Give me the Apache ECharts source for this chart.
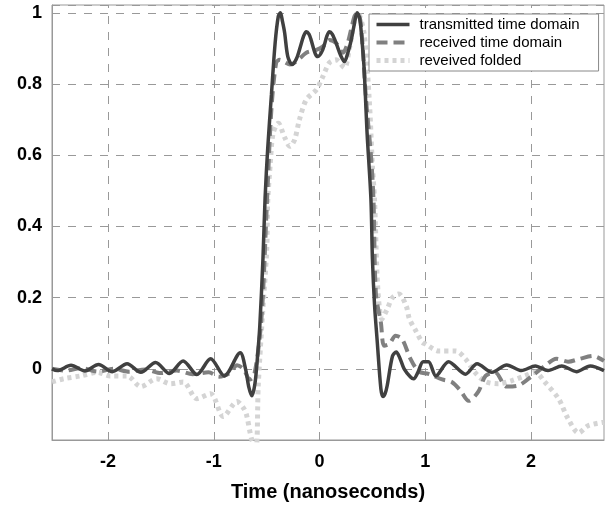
<!DOCTYPE html>
<html><head><meta charset="utf-8">
<script src="https://cdn.jsdelivr.net/npm/echarts@6/dist/echarts.min.js"></script>
<style>html,body{margin:0;padding:0;background:#fff}#c{width:608px;height:506px}</style>
</head><body><div id="c"></div>
<script>
// Data (time in ns, normalized amplitude)
var seriesNames = ['transmitted time domain', 'received time domain', 'reveived folded'];
var xTitle = 'Time (nanoseconds)';
var xTicks = [-2, -1, 0, 1, 2];

var tTx = [-2.53,-2.48,-2.35,-2.22,-2.09,-1.96,-1.82,-1.69,-1.55,-1.42,-1.29,-1.16,-1.03,-0.9,-0.75,-0.7,-0.67,-0.64,-0.61,-0.585,-0.565,-0.535,-0.515,-0.49,-0.455,-0.42,-0.39,-0.37,-0.35,-0.33,-0.3,-0.26,-0.22,-0.19,-0.15,-0.125,-0.1,-0.08,-0.04,-0.016,0.03,0.07,0.094,0.12,0.157,0.2,0.235,0.27,0.3,0.33,0.355,0.375,0.39,0.42,0.45,0.486,0.5,0.52,0.546,0.58,0.6,0.62,0.64,0.69,0.725,0.76,0.8,0.86,0.89,0.93,0.98,1.03,1.1,1.22,1.38,1.49,1.63,1.77,1.91,2.04,2.16,2.29,2.43,2.56,2.69];
var vTx = [0.0,-0.005,0.01,-0.006,0.012,-0.008,0.014,-0.01,0.018,-0.013,0.022,-0.016,0.028,-0.02,0.045,0.0,-0.05,-0.076,-0.04,0.04,0.12,0.31,0.48,0.62,0.77,0.915,0.99,1.0,0.975,0.944,0.877,0.855,0.87,0.896,0.935,0.947,0.94,0.924,0.885,0.877,0.896,0.935,0.947,0.94,0.915,0.88,0.863,0.89,0.924,0.97,1.0,0.99,0.96,0.85,0.66,0.476,0.31,0.18,0.075,-0.056,-0.078,-0.07,-0.047,0.036,0.047,0.03,0.0,-0.023,-0.028,-0.01,0.02,0.02,-0.02,0.02,-0.015,0.014,-0.01,0.011,-0.005,0.008,-0.005,0.008,-0.008,0.008,-0.005];

var tRx = [-2.53,-2.4,-2.25,-2.1,-1.95,-1.8,-1.65,-1.5,-1.35,-1.2,-1.05,-0.95,-0.85,-0.78,-0.72,-0.66,-0.62,-0.565,-0.535,-0.5,-0.455,-0.41,-0.376,-0.33,-0.28,-0.22,-0.125,-0.03,0.03,0.094,0.157,0.22,0.266,0.33,0.36,0.39,0.44,0.486,0.51,0.533,0.58,0.61,0.66,0.72,0.78,0.86,0.94,1.03,1.16,1.25,1.33,1.41,1.5,1.57,1.66,1.77,1.88,2.01,2.13,2.24,2.35,2.46,2.59,2.69];
var vRx = [0.0,-0.005,0.002,-0.008,0.0,-0.008,-0.002,-0.012,-0.005,-0.015,-0.01,-0.022,-0.012,0.01,0.0,-0.03,-0.02,0.09,0.21,0.45,0.73,0.86,0.868,0.862,0.855,0.863,0.888,0.896,0.905,0.924,0.915,0.888,0.915,0.99,1.0,0.97,0.756,0.6,0.476,0.21,0.13,0.065,0.07,0.093,0.084,0.028,-0.008,-0.014,-0.03,-0.037,-0.06,-0.09,-0.065,-0.02,-0.01,-0.05,-0.047,-0.02,0.008,0.028,0.02,0.028,0.036,0.022];

var tFd = [-2.53,-2.42,-2.26,-2.1,-1.98,-1.82,-1.69,-1.54,-1.41,-1.29,-1.16,-1.03,-0.91,-0.78,-0.72,-0.69,-0.64,-0.6,-0.58,-0.54,-0.5,-0.49,-0.465,-0.44,-0.39,-0.33,-0.28,-0.235,-0.19,-0.125,-0.03,0.03,0.094,0.157,0.235,0.28,0.33,0.36,0.42,0.47,0.5,0.52,0.55,0.59,0.64,0.69,0.75,0.82,0.85,0.91,0.97,1.0,1.13,1.29,1.38,1.47,1.57,1.69,1.82,1.94,2.04,2.13,2.26,2.35,2.45,2.54,2.69];
var vFd = [-0.037,-0.028,-0.02,-0.01,-0.02,-0.02,-0.05,-0.028,-0.042,-0.037,-0.084,-0.07,-0.134,-0.092,-0.11,-0.13,-0.2,-0.22,-0.05,0.15,0.33,0.47,0.58,0.66,0.69,0.65,0.625,0.644,0.7,0.756,0.784,0.82,0.86,0.868,0.846,0.896,0.98,1.0,0.944,0.756,0.57,0.476,0.23,0.14,0.168,0.2,0.21,0.176,0.14,0.107,0.075,0.07,0.05,0.05,0.028,-0.01,-0.036,-0.042,-0.033,-0.02,-0.01,-0.037,-0.084,-0.14,-0.18,-0.16,-0.15];

function pairs(t, v){ return t.map(function(x,i){ return [x, v[i]]; }); }

var styles = [
  {color:'#404040', width:3.5, type:'solid'},
  {color:'#808080', width:4, type:[11,6]},
  {color:'#d4d4d4', width:5, type:[4,4]}
];
var gridLine = {color:'#999', type:[8,8], width:1};
var chart = echarts.init(document.getElementById('c'), null, {renderer:'canvas'});
var labelFont = {fontFamily:'Liberation Sans', fontWeight:'bold', fontSize:18, color:'#000'};
chart.setOption({
  animation:false,
  backgroundColor:'#fff',
  grid:{left:52, right:4, top:5, bottom:66, show:true, borderColor:'#999', borderWidth:1,
        containLabel:false, outerBoundsMode:'none'},
  legend:{
    orient:'vertical', left:369, top:14,
    backgroundColor:'#fff', borderColor:'#888', borderWidth:1,
    padding:[3,19,3,5], itemGap:3, itemWidth:33, itemHeight:14,
    itemStyle:{opacity:0},
    textStyle:{fontFamily:'Liberation Sans', fontSize:15, lineHeight:15, color:'#000', padding:[0,0,0,5]},
    data:seriesNames.map(function(n,i){ return {name:n, lineStyle:{width:styles[i].width, type:styles[i].type, color:styles[i].color}}; })
  },
  xAxis:{
    type:'value', min:-2.53, max:2.69,
    axisLine:{show:true, onZero:false, lineStyle:{color:'#999'}},
    axisTick:{show:false, customValues:xTicks},
    axisLabel:Object.assign({margin:13, customValues:xTicks}, labelFont),
    splitLine:{show:false},
    name:xTitle, nameLocation:'middle', nameGap:42,
    nameTextStyle:{fontFamily:'Liberation Sans', fontWeight:'bold', fontSize:20, color:'#000'}
  },
  yAxis:{
    type:'value', min:-0.2, max:1.022, interval:0.2,
    axisLine:{show:true, onZero:false, lineStyle:{color:'#999'}},
    axisTick:{show:false},
    axisLabel:Object.assign({margin:10, showMinLabel:false, showMaxLabel:false,
      formatter:function(v){ return Math.abs(v)<1e-9 ? '0' : String(Math.round(v*10)/10); }}, labelFont),
    splitLine:{show:true, lineStyle:gridLine}
  },
  series:[
    {name:seriesNames[2], type:'line', data:pairs(tFd,vFd), showSymbol:false, symbol:'none', smooth:0.3,
     lineStyle:styles[2], itemStyle:{color:styles[2].color}, z:3,
     markLine:{silent:true, symbol:'none', animation:false, label:{show:false}, z:1,
       lineStyle:gridLine, emphasis:{disabled:true},
       data:xTicks.map(function(v){ return {xAxis:v}; })}},
    {name:seriesNames[1], type:'line', data:pairs(tRx,vRx), showSymbol:false, symbol:'none', smooth:0.3,
     lineStyle:styles[1], itemStyle:{color:styles[1].color}, z:4},
    {name:seriesNames[0], type:'line', data:pairs(tTx,vTx), showSymbol:false, symbol:'none', smooth:0.3,
     lineStyle:styles[0], itemStyle:{color:styles[0].color}, z:5}
  ]
});
</script></body></html>
